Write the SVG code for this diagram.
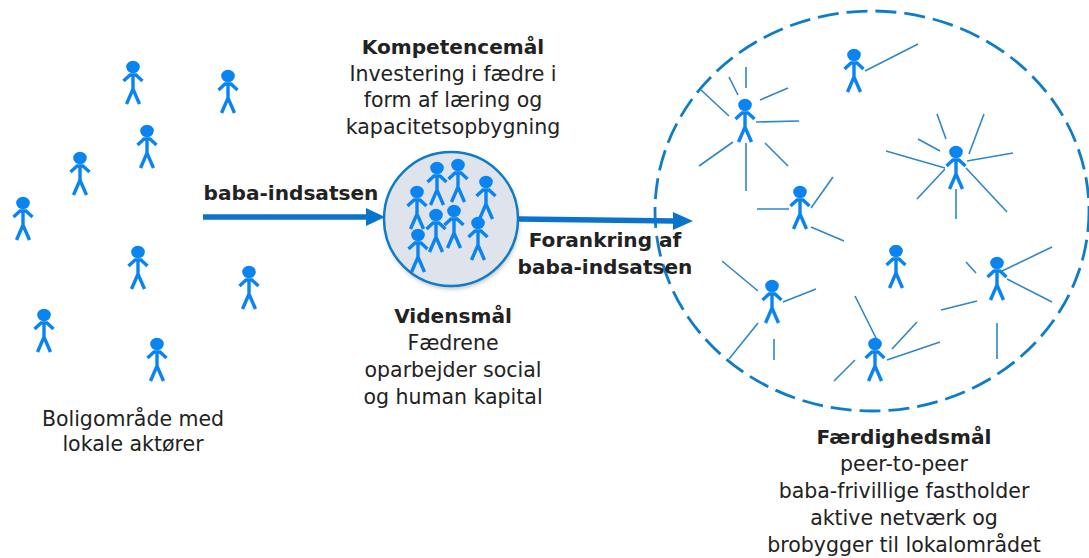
<svg xmlns="http://www.w3.org/2000/svg" xmlns:xlink="http://www.w3.org/1999/xlink" width="1089" height="558" viewBox="0 0 1089 558">
<style>
text{font-family:"DejaVu Sans",Verdana,sans-serif;font-size:20.5px;fill:#222;text-anchor:middle}
.b{font-weight:bold;font-size:20.1px}
.ray{stroke:#2f86c8;stroke-width:1.6;fill:none}
.p path{fill:none;stroke:#0a84f0;stroke-width:3.4}
.arrow{stroke:#0a74cc;stroke-width:5.5;fill:none}
.head{fill:#0a74cc}
</style>
<defs>
<filter id="sh" x="-10%" y="-10%" width="120%" height="120%"><feGaussianBlur stdDeviation="2"/></filter>
<g id="person" class="p">
<ellipse cx="0" cy="0" rx="6.8" ry="6.2" fill="#0a84f0"/>
<path d="M-9.5 14L-3 8H3L9.5 14M0 8V23M-6.5 37L0 22L6.5 37"/>
</g>
</defs>
<g id="left-people">
<use href="#person" x="133" y="67"/>
<use href="#person" x="228" y="76"/>
<use href="#person" x="147" y="131"/>
<use href="#person" x="80" y="158"/>
<use href="#person" x="23" y="203"/>
<use href="#person" x="138" y="252"/>
<use href="#person" x="249" y="272"/>
<use href="#person" x="44" y="315"/>
<use href="#person" x="157" y="344"/>
</g>
<g id="center-node">
<circle cx="452" cy="222" r="67" fill="#999" opacity=".6" filter="url(#sh)"/>
<circle cx="451" cy="219" r="67" fill="#dfe4ec" stroke="#0f7cc8" stroke-width="2.5"/>
<use href="#person" x="437" y="168"/>
<use href="#person" x="458" y="165"/>
<use href="#person" x="486" y="182"/>
<use href="#person" x="417" y="192"/>
<use href="#person" x="436" y="215"/>
<use href="#person" x="454" y="211"/>
<use href="#person" x="478" y="223"/>
<use href="#person" x="418" y="235"/>
</g>
<g id="network">
<ellipse cx="872" cy="211" rx="217" ry="200" fill="none" stroke="#0f7cc8" stroke-width="2.8" stroke-dasharray="21 8"/>
<g id="rays" class="ray">
<path d="M865 71L918 44M746 67V88M729 77L738 95M760 100L788 88M701 90L729 116M756 122L799 121M733 142L699 166M746 143V191M765 143L788 166M757 209H789M811 208L833 177M811 227L844 241"/>
<path d="M937 114L946 139M918 139L940 151M984 114L969 154M967 161L1013 153M886 151L945 168M945 169L917 199M966 168L1007 212M956 189V219"/>
<path d="M722 261L758 291M783 302L816 289M758 323L729 359M774 339V360M855 296L877 340M917 322L892 349M887 360L940 342M855 360L834 381M941 310L977 301M966 262L976 273M1002 271L1052 247M1007 279L1052 302M997 323V359"/>
</g>
<use href="#person" x="854" y="55"/>
<use href="#person" x="745" y="105"/>
<use href="#person" x="956" y="152"/>
<use href="#person" x="800" y="192"/>
<use href="#person" x="896" y="251"/>
<use href="#person" x="997" y="263"/>
<use href="#person" x="772" y="286"/>
<use href="#person" x="875" y="344"/>
</g>
<g id="connectors">
<path class="arrow" d="M203 217H370"/>
<path class="head" d="M366 208L385 217L366 226Z"/>
<path class="arrow" d="M518 219L675 221"/>
<path class="head" d="M673 212L693 221L673 230Z"/>
</g>
<g id="labels">
<text class="b" x="453" y="54">Kompetencemål</text>
<text x="453" y="81">Investering i fædre i</text>
<text x="453" y="107">form af læring og</text>
<text x="453" y="134">kapacitetsopbygning</text>
<text class="b" x="291" y="200">baba-indsatsen</text>
<text class="b" x="605" y="247">Forankring af</text>
<text class="b" x="605" y="274">baba-indsatsen</text>
<text class="b" x="453" y="323">Vidensmål</text>
<text x="453" y="350">Fædrene</text>
<text x="453" y="377">oparbejder social</text>
<text x="453" y="404">og human kapital</text>
<text x="133" y="426">Boligområde med</text>
<text x="133" y="451">lokale aktører</text>
<text class="b" x="904" y="444">Færdighedsmål</text>
<text x="904" y="471">peer-to-peer</text>
<text x="904" y="498">baba-frivillige fastholder</text>
<text x="904" y="525">aktive netværk og</text>
<text x="904" y="552">brobygger til lokalområdet</text>
</g>
</svg>
